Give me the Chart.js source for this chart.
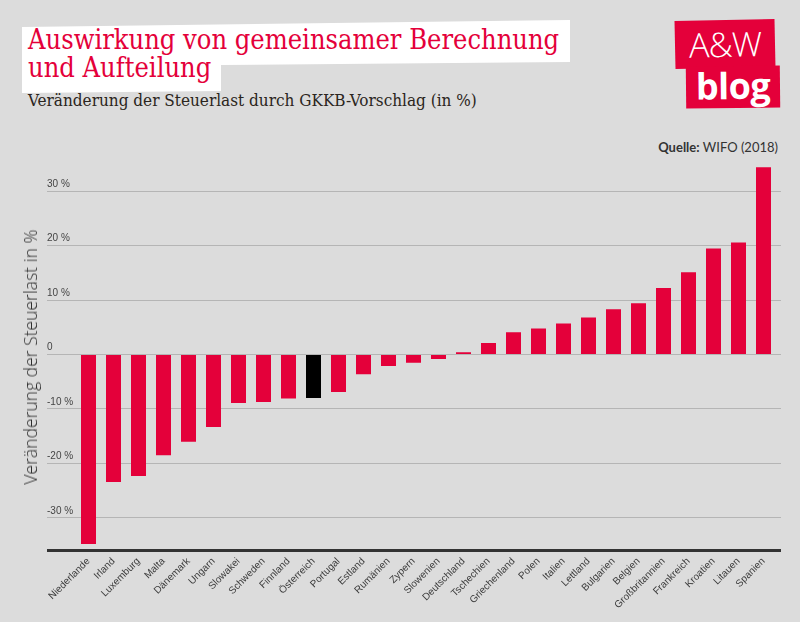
<!DOCTYPE html>
<html lang="de">
<head>
<meta charset="utf-8">
<title>Auswirkung von gemeinsamer Berechnung und Aufteilung</title>
<script src="https://cdn.jsdelivr.net/npm/chart.js@4/dist/chart.umd.min.js"></script>
<style>
  html, body { margin: 0; padding: 0; }
  body { width: 800px; height: 622px; background: #dcdcdc; position: relative; overflow: hidden; }
  #chart { position: absolute; left: 0; top: 0; }
  .titlebox {
    position: absolute; left: 0; top: 0; width: 800px; height: 110px; background: #fff;
    clip-path: polygon(22px 27px, 570px 20px, 570px 62px, 221px 65px, 221px 91px, 22px 93px);
  }
  h1 {
    position: absolute; left: 28px; top: 26px; margin: 0;
    font: 400 27px/28px "DejaVu Serif", serif; font-stretch: condensed;
    color: #e4003a; white-space: nowrap;
  }
  .sub {
    position: absolute; left: 28px; top: 90px; margin: 0;
    font: 400 17px "DejaVu Serif", serif; font-stretch: condensed;
    color: #2b2520; white-space: nowrap;
  }
  .logo1, .logo2 { position: absolute; background: #e4003a; color: #fff; text-align: center; }
  .logo1 {
    left: 675px; top: 20px; width: 100px; height: 48px; transform: rotate(-1.2deg);
    font: 300 34px/48px "Open Sans", sans-serif; letter-spacing: -1px;
  }
  .logo2 {
    left: 686px; top: 66px; width: 94px; height: 42px; transform: rotate(-0.6deg);
    font: 700 36px/40px "Open Sans", sans-serif; letter-spacing: -0.5px;
  }
  .source {
    position: absolute; right: 22px; top: 139px;
    font: 400 13px "Lato", sans-serif; color: #333;
  }
  .source b { font-weight: 700; }
  .ytitle {
    position: absolute; left: 30px; top: 357px; transform: translate(-50%, -50%) rotate(-90deg);
    font: 300 17.5px "Open Sans", sans-serif; color: #2e2e2e; white-space: nowrap;
  }
</style>
</head>
<body>
<div class="titlebox"></div>
<h1>Auswirkung von gemeinsamer Berechnung<br>und Aufteilung</h1>
<div class="sub">Veränderung der Steuerlast durch GKKB-Vorschlag (in %)</div>
<div class="logo1">A&amp;W</div>
<div class="logo2">blog</div>
<div class="source"><b>Quelle:</b> WIFO (2018)</div>
<canvas id="chart" width="800" height="622"></canvas>
<div class="ytitle">Veränderung der Steuerlast in %</div>
<script>
// EU-28, sorted by change of tax burden under the CCCTB proposal (in %)
const countries = [
  "Niederlande", "Irland", "Luxemburg", "Malta", "Dänemark", "Ungarn", "Slowakei",
  "Schweden", "Finnland", "Österreich", "Portugal", "Estland", "Rumänien", "Zypern",
  "Slowenien", "Deutschland", "Tschechien", "Griechenland", "Polen", "Italien",
  "Lettland", "Bulgarien", "Belgien", "Großbritannien", "Frankreich", "Kroatien",
  "Litauen", "Spanien",
];
const change = [
  -34.8, -23.4, -22.3, -18.5, -16.0, -13.3, -8.9,
  -8.7, -8.1, -8.0, -6.9, -3.6, -2.1, -1.5,
  -0.8, 0.4, 2.1, 4.1, 4.8, 5.7,
  6.8, 8.3, 9.4, 12.2, 15.1, 19.5,
  20.6, 34.4,
];
const highlight = "Österreich";

// y axis range and tick step
const yMin = -36;
const yMax = 35;
const yStep = 10;

const RED = "#e4003a";
const GRID = "#b5b5b5";
const AXIS = "#333333";

const gridColor = c => c.tick.value === yMin ? AXIS : (c.tick.value === yMax ? "rgba(0,0,0,0)" : GRID);
const gridWidth = c => c.tick.value === yMin ? 3 : 1;

new Chart(document.getElementById("chart"), {
  type: "bar",
  data: {
    labels: countries,
    datasets: [{
      data: change,
      backgroundColor: countries.map(c => c === highlight ? "#000000" : RED),
      borderWidth: 0,
      categoryPercentage: 1,
      barPercentage: 0.6,
    }],
  },
  options: {
    responsive: false,
    animation: false,
    layout: { padding: { left: 47, right: 19, top: 164, bottom: 0 } },
    plugins: { legend: { display: false }, tooltip: { enabled: false } },
    scales: {
      x: {
        grid: { display: false, drawTicks: false },
        border: { display: false },
        ticks: {
          color: "#3c3c3c", font: { family: "Liberation Sans", size: 10 },
          minRotation: 45, maxRotation: 45, padding: 5, autoSkip: false,
        },
        afterFit: s => { s.height = 71.5; },
      },
      y: {
        min: yMin, max: yMax,
        grid: { color: gridColor, lineWidth: gridWidth, tickLength: 29 },
        border: { display: false },
        ticks: {
          stepSize: yStep, crossAlign: "far", labelOffset: -7,
          color: "#444", font: { family: "Liberation Sans", size: 10 },
          callback: v => v % 10 !== 0 ? "" : (v === 0 ? "0" : v + " %"),
        },
        afterFit: s => { s.width = 29; },
      },
      yr: {
        position: "right",
        min: yMin, max: yMax,
        grid: { color: gridColor, lineWidth: gridWidth, tickLength: 5, drawOnChartArea: false },
        border: { display: false },
        ticks: { stepSize: yStep, display: false },
        afterFit: s => { s.width = 5; },
      },
    },
  },
});
</script>
</body>
</html>
